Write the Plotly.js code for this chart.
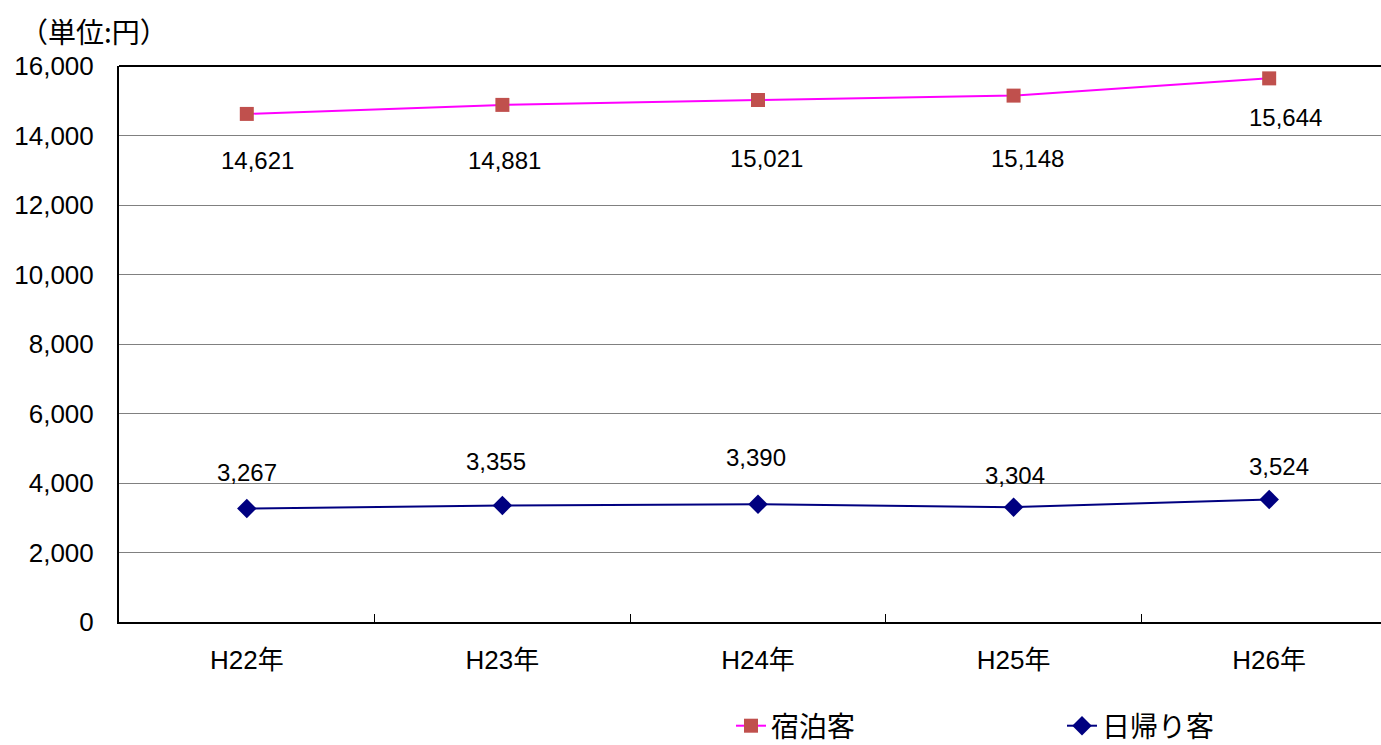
<!DOCTYPE html>
<html><head><meta charset="utf-8">
<script src="https://cdn.plot.ly/plotly-3.0.1.min.js"></script>
<style>html,body{margin:0;padding:0;background:#fff;}#chart{width:1381px;height:745px;}</style>
</head><body><div id="chart"></div>
<script>
const categories = ["H22年", "H23年", "H24年", "H25年", "H26年"];
const stayValues = [14621, 14881, 15021, 15148, 15644];
const dayValues = [3267, 3355, 3390, 3304, 3524];
const stayName = "宿泊客";
const dayName = "日帰り客";
const yTickVals = [0, 2000, 4000, 6000, 8000, 10000, 12000, 14000, 16000];

const stayLabelShift = [-47, -56, -58, -63, -39];
const stayLabelXShift = [11, 2, 9, 14, 16];
const dayLabelShift = [36, 44, 47, 32, 33];
const dayLabelXShift = [0, -6, -2, 1, 10];

const FONT = '"Liberation Sans", "Noto Sans CJK JP", sans-serif';
const CJK = '"Noto Sans CJK JP", sans-serif';

const traces = [
  {x: categories, y: stayValues, name: stayName, type: 'scatter', mode: 'lines+markers', legend: 'legend',
   line: {color: '#FF00FF', width: 2}, marker: {symbol: 'square', size: 14, color: '#C0504D'}},
  {x: categories, y: dayValues, name: dayName, type: 'scatter', mode: 'lines+markers', legend: 'legend2',
   line: {color: '#000080', width: 2}, marker: {symbol: 'diamond', size: 15, color: '#000080'}}
];

const fmt = v => v.toLocaleString('en-US');
const annotations = [];
categories.forEach((c, i) => {
  annotations.push({x: c, y: stayValues[i], xref: 'x', yref: 'y', text: fmt(stayValues[i]), showarrow: false,
    yshift: stayLabelShift[i], xshift: stayLabelXShift[i], font: {family: FONT, size: 24, color: '#000'}});
  annotations.push({x: c, y: dayValues[i], xref: 'x', yref: 'y', text: fmt(dayValues[i]), showarrow: false,
    yshift: dayLabelShift[i], xshift: dayLabelXShift[i], font: {family: FONT, size: 24, color: '#000'}});
});

const legendBase = {orientation: 'h', xanchor: 'left', xref: 'container', y: 1 - 726/745, yanchor: 'middle', yref: 'container',
  font: {family: CJK, size: 28, color: '#000'}, bgcolor: 'rgba(0,0,0,0)'};

const layout = {
  width: 1381, height: 745,
  margin: {l: 119, r: 0, t: 66, b: 123},
  paper_bgcolor: '#fff', plot_bgcolor: '#fff',
  title: {text: '（単位:円）', x: 20/1381, xanchor: 'left', xref: 'container', y: 1 - 33/745, yanchor: 'middle', yref: 'container',
          font: {family: CJK, size: 28, color: '#000'}},
  showlegend: true,
  legend: Object.assign({}, legendBase, {x: 731/1381}),
  legend2: Object.assign({}, legendBase, {x: 1062/1381}),
  xaxis: {type: 'category', range: [-0.5, 4.5 - 16/256], showgrid: false, zeroline: false,
          showline: true, linecolor: '#000', linewidth: 2,
          ticks: 'inside', tickson: 'boundaries', ticklen: 8, tickcolor: '#000', tickwidth: 1,
          ticklabelstandoff: 14,
          tickfont: {family: FONT, size: 26, color: '#000'}, fixedrange: true},
  yaxis: {range: [0, 16000], tickvals: yTickVals, tickformat: ',d', showgrid: true, gridcolor: '#808080', gridwidth: 1,
          zeroline: false, showline: true, linecolor: '#000', linewidth: 2, ticks: '',
          ticklabelstandoff: 18,
          tickfont: {family: FONT, size: 26, color: '#000'}, fixedrange: true},
  shapes: [{type: 'line', xref: 'paper', yref: 'paper', x0: 0, x1: 1, y0: 1, y1: 1, line: {color: '#000', width: 2}}],
  annotations: annotations
};

Plotly.newPlot('chart', traces, layout, {displayModeBar: false, staticPlot: true});
</script></body></html>
